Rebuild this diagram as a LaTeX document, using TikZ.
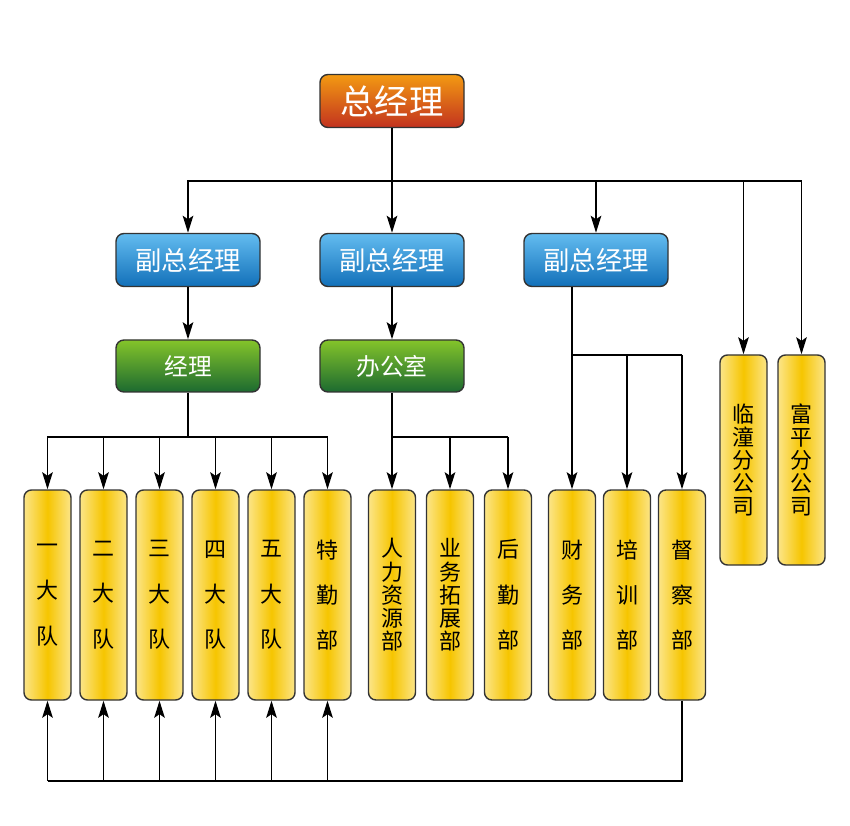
\documentclass[tikz,border=0pt]{standalone}
\usepackage{fontspec}
\newfontfamily\cjk{Noto Sans CJK SC}
\usepackage{tikz}
\usetikzlibrary{arrows.meta}

\definecolor{gmtop}{HTML}{F39A12}
\definecolor{gmbot}{HTML}{C2321F}
\definecolor{vptop}{HTML}{63BCF0}
\definecolor{vpbot}{HTML}{1270B9}
\definecolor{mgtop}{HTML}{84C42A}
\definecolor{mgbot}{HTML}{1C6A30}
\definecolor{yedge}{HTML}{FCE588}
\definecolor{ymid}{HTML}{F6C500}

\begin{document}
\begin{tikzpicture}[>=Stealth,
    headbox/.style={draw=black!80, line width=0.8pt, rounded corners=1.6mm, minimum width=2.88cm, minimum height=1.06cm, inner sep=0pt, text=white},
    gmbox/.style={headbox, top color=gmtop, bottom color=gmbot, font=\cjk\fontsize{19.5}{22}\selectfont},
    vpbox/.style={headbox, top color=vptop, bottom color=vpbot, font=\cjk\fontsize{15}{18}\selectfont},
    mgbox/.style={headbox, minimum height=1.04cm, top color=mgtop, bottom color=mgbot, font=\cjk\fontsize{13.5}{16}\selectfont},
    vbox/.style={draw=black!80, line width=0.8pt, rounded corners=1.5mm, minimum width=0.94cm, minimum height=4.2cm, inner sep=0pt, left color=yedge, right color=yedge, middle color=ymid, align=center, font=\cjk\fontsize{12.5}{13.2}\selectfont},
    sparse/.style={font=\cjk\fontsize{12.5}{25.8}\selectfont},
    line/.style={line width=1.1pt},
    arrow/.style={-{Stealth[length=3.4mm, width=2.1mm, inset=0.7mm]}, line width=1.1pt}
  ]
    \useasboundingbox (0,0) rectangle (17,-16.52);

    \node[gmbox] (gm) at (7.84,-2.02) {总经理};
    \node[vpbox] (vp1) at (3.76,-5.20) {副总经理};
    \node[vpbox] (vp2) at (7.84,-5.20) {副总经理};
    \node[vpbox] (vp3) at (11.92,-5.20) {副总经理};
    \node[mgbox] (jl) at (3.76,-7.32) {经理};
    \node[mgbox] (bgs) at (7.84,-7.32) {办公室};

    \node[vbox] (lt) at (14.87,-9.20) {临\\潼\\分\\公\\司};
    \node[vbox] (fp) at (16.03,-9.20) {富\\平\\分\\公\\司};

    \node[vbox, sparse] (d1) at (0.95,-11.90) {一\\大\\队};
    \node[vbox, sparse] (d2) at (2.07,-11.90) {二\\大\\队};
    \node[vbox, sparse] (d3) at (3.19,-11.90) {三\\大\\队};
    \node[vbox, sparse] (d4) at (4.31,-11.90) {四\\大\\队};
    \node[vbox, sparse] (d5) at (5.43,-11.90) {五\\大\\队};
    \node[vbox, sparse] (tq) at (6.55,-11.90) {特\\勤\\部};
    \node[vbox] (rl) at (7.84,-11.90) {人\\力\\资\\源\\部};
    \node[vbox] (yw) at (9.00,-11.90) {业\\务\\拓\\展\\部};
    \node[vbox, sparse] (hq) at (10.16,-11.90) {后\\勤\\部};
    \node[vbox, sparse] (cw) at (11.44,-11.90) {财\\务\\部};
    \node[vbox, sparse] (px) at (12.54,-11.90) {培\\训\\部};
    \node[vbox, sparse] (dc) at (13.64,-11.90) {督\\察\\部};

    \coordinate (topbus) at (0,-3.62);
    \coordinate (rbus) at (0,-7.10);
    \coordinate (midbus) at (0,-8.74);
    \coordinate (botbus) at (0,-15.62);

    % general manager to deputies and branches
    \draw[line] (gm.south) -- (gm.south |- topbus);
    \draw[arrow] (gm.south |- topbus) -| (vp1.north);
    \draw[arrow] (gm.south |- topbus) -- (vp2.north);
    \draw[arrow] (gm.south |- topbus) -| (vp3.north);
    \draw[arrow] (gm.south |- topbus) -| (lt.north);
    \draw[arrow] (gm.south |- topbus) -| (fp.north);

    \draw[arrow] (vp1) -- (jl);
    \draw[arrow] (vp2) -- (bgs);

    % manager to brigades
    \draw[line] (jl.south) -- (jl.south |- midbus);
    \draw[arrow] (jl.south |- midbus) -| (d1.north);
    \draw[arrow] (jl.south |- midbus) -| (d2.north);
    \draw[arrow] (jl.south |- midbus) -| (d3.north);
    \draw[arrow] (jl.south |- midbus) -| (d4.north);
    \draw[arrow] (jl.south |- midbus) -| (d5.north);
    \draw[arrow] (jl.south |- midbus) -| (tq.north);

    % office
    \draw[arrow] (bgs) -- (rl);
    \draw[line] (bgs.south |- midbus) -- (hq.north |- midbus);
    \draw[arrow] (yw.north |- midbus) -- (yw.north);
    \draw[arrow] (hq.north |- midbus) -- (hq.north);

    % third deputy
    \draw[arrow] (vp3.south -| cw) -- (cw.north);
    \draw[line] (cw.north |- rbus) -- (dc.north |- rbus);
    \draw[arrow] (px.north |- rbus) -- (px.north);
    \draw[arrow] (dc.north |- rbus) -- (dc.north);

    % inspection back to brigades
    \draw[line] (dc.south) |- (d1.south |- botbus);
    \draw[arrow] (d1.south |- botbus) -- (d1.south);
    \draw[arrow] (d2.south |- botbus) -- (d2.south);
    \draw[arrow] (d3.south |- botbus) -- (d3.south);
    \draw[arrow] (d4.south |- botbus) -- (d4.south);
    \draw[arrow] (d5.south |- botbus) -- (d5.south);
    \draw[arrow] (tq.south |- botbus) -- (tq.south);
\end{tikzpicture}
\end{document}
